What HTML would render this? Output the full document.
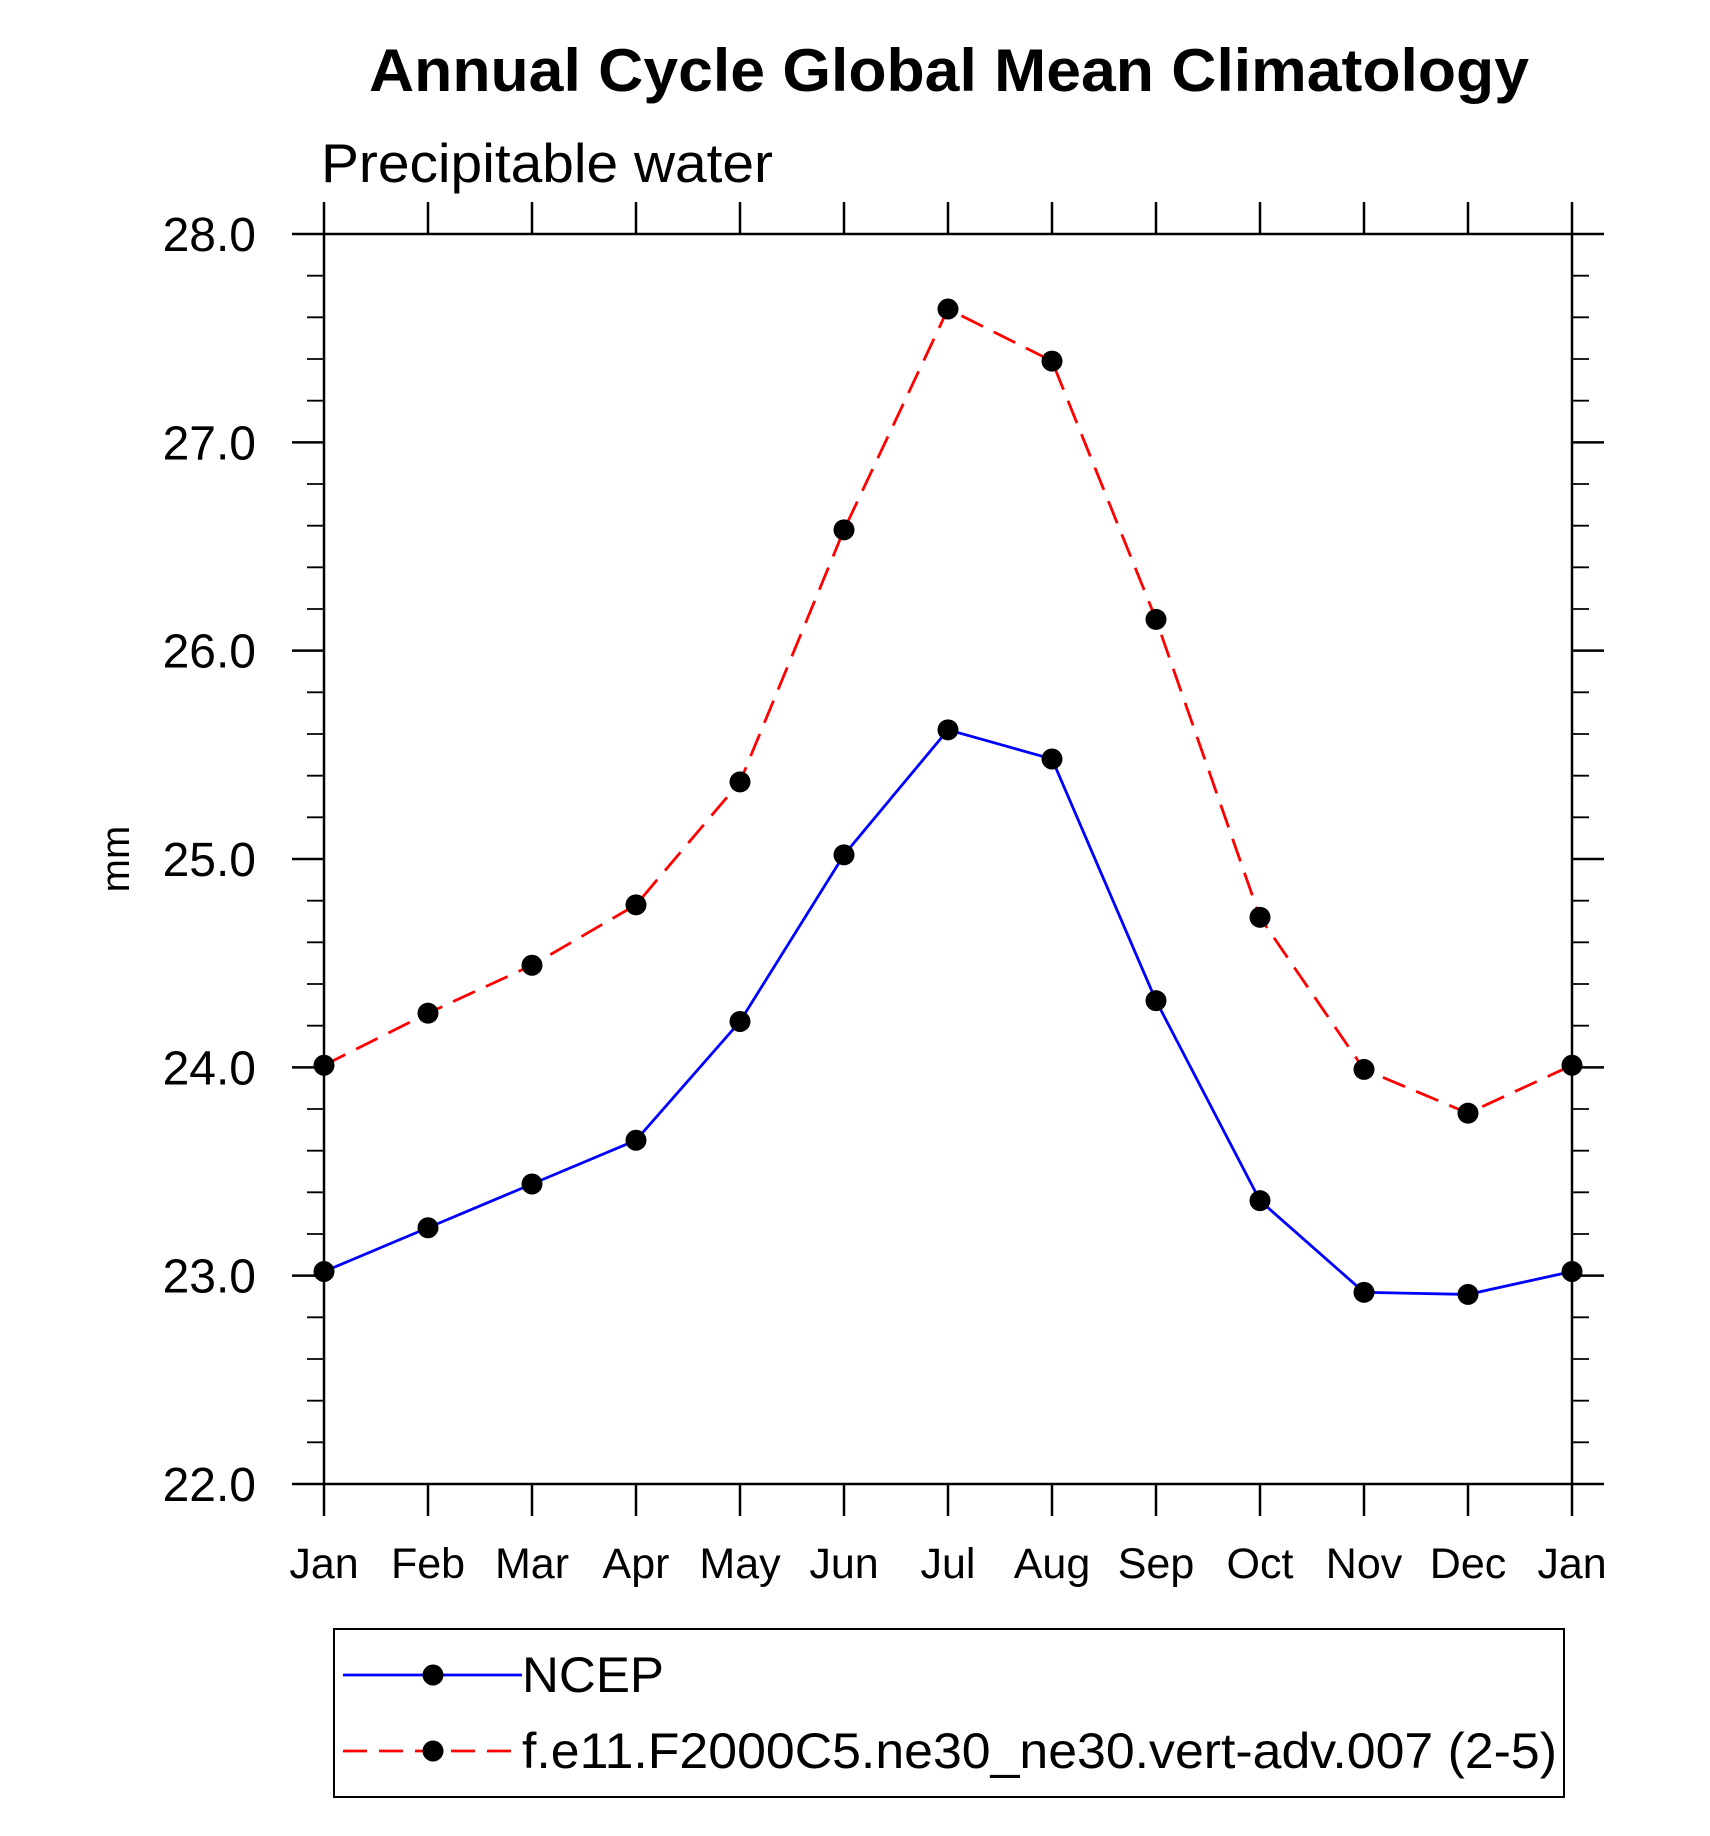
<!DOCTYPE html>
<html><head><meta charset="utf-8"><style>
html,body{margin:0;padding:0;background:#fff;}
svg{display:block;font-family:"Liberation Sans",sans-serif;}
</style></head><body>
<svg id="chart" width="1710" height="1836" viewBox="0 0 1710 1836" xmlns="http://www.w3.org/2000/svg">
<text x="949" y="91" font-size="60" font-weight="bold" text-anchor="middle" textLength="1160" lengthAdjust="spacingAndGlyphs">Annual Cycle Global Mean Climatology</text>
<text x="321" y="182" font-size="55" textLength="452" lengthAdjust="spacingAndGlyphs">Precipitable water</text>
<text transform="translate(129,859) rotate(-90)" font-size="40" text-anchor="middle">mm</text>
<g id="axes"></g>
<g id="series"></g>
<g id="legend">
<rect x="334" y="1629" width="1230" height="168" fill="none" stroke="#000" stroke-width="2"/>
<g>
<line x1="343" y1="1675" x2="522" y2="1675" stroke="#0000ff" stroke-width="2.8"/>
<circle cx="433" cy="1675" r="10.5" fill="#000"/>
<text x="522" y="1692" font-size="50" textLength="142" lengthAdjust="spacingAndGlyphs">NCEP</text>
</g>
<g>
<line x1="343" y1="1751" x2="522" y2="1751" stroke="#ff0000" stroke-width="2.8" stroke-dasharray="24,12"/>
<circle cx="433" cy="1751" r="10.5" fill="#000"/>
<text x="522" y="1768" font-size="50" textLength="1035" lengthAdjust="spacingAndGlyphs">f.e11.F2000C5.ne30_ne30.vert-adv.007 (2-5)</text>
</g>
</g>
</svg>
<script>
const months = ["Jan","Feb","Mar","Apr","May","Jun","Jul","Aug","Sep","Oct","Nov","Dec","Jan"];
const ncep = [23.02,23.23,23.44,23.65,24.22,25.02,25.62,25.48,24.32,23.36,22.92,22.91,23.02];
const model = [24.01,24.26,24.49,24.78,25.37,26.58,27.64,27.39,26.15,24.72,23.99,23.78,24.01];
const yTicks = [22,23,24,25,26,27,28];
const yTickLabels = ["22.0","23.0","24.0","25.0","26.0","27.0","28.0"];

const NS="http://www.w3.org/2000/svg";
const L=324,R=1572,T=234,B=1484,ymin=22,ymax=28;
const xs=i=>L+(R-L)*i/(months.length-1);
const ys=v=>B-(B-T)*(v-ymin)/(ymax-ymin);
function mk(tag,attrs,parent){const e=document.createElementNS(NS,tag);for(const k in attrs)e.setAttribute(k,attrs[k]);parent.appendChild(e);return e;}
const axes=document.getElementById('axes');
const frame=mk('rect',{x:L,y:T,width:R-L,height:B-T,fill:'none',stroke:'#000','stroke-width':2.5},axes);


months.forEach((m,i)=>{
  const x=xs(i);
  const t1=mk('line',{x1:x,y1:B,x2:x,y2:B+32,stroke:'#000','stroke-width':2.5},axes);
  
  
  const t2=mk('line',{x1:x,y1:T,x2:x,y2:T-32,stroke:'#000','stroke-width':2.5},axes);
  
  
  const lb=mk('text',{x:x,y:1578,'font-size':43,'text-anchor':'middle'},axes);
  lb.textContent=m;
  
  
});
for(let v=ymin;v<=ymax+1e-9;v+=0.2){
  const y=ys(v);
  const isMajor=Math.abs(v-Math.round(v))<1e-6;
  const len=isMajor?32:17;
  const a=mk('line',{x1:L-len,y1:y,x2:L,y2:y,stroke:'#000','stroke-width':isMajor?2.5:1.8},axes);
  
  
  const b=mk('line',{x1:R,y1:y,x2:R+len,y2:y,stroke:'#000','stroke-width':isMajor?2.5:1.8},axes);
  
  
}
yTicks.forEach((v,i)=>{
  const t=mk('text',{x:256,y:ys(v)+17,'font-size':48,'text-anchor':'end'},axes);
  t.textContent=yTickLabels[i];
  
  
});
const ser=document.getElementById('series');
function draw(vals,color,dash,name){
  const g=mk('g',{},ser);
  
  
  const pts=vals.map((v,i)=>xs(i)+','+ys(v)).join(' ');
  const pl=mk('polyline',{points:pts,fill:'none',stroke:color,'stroke-width':2.8,'stroke-dasharray':dash},g);
  
  
  vals.forEach((v,i)=>{
    const c=mk('circle',{cx:xs(i),cy:ys(v),r:10.5,fill:'#000'},g);
    
    
  });
}
draw(model,'#ff0000','24,12','model-series');
draw(ncep,'#0000ff','none','ncep-series');
</script>
</body></html>
